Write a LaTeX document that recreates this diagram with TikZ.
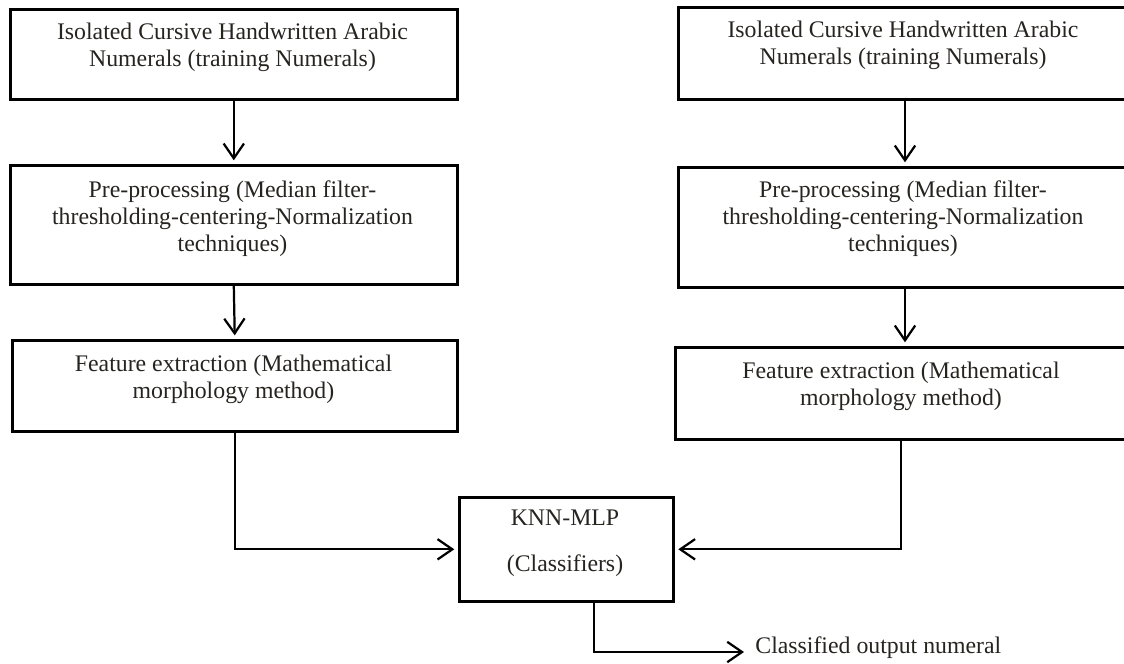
\documentclass[tikz,border=0pt]{standalone}
\usepackage{fontspec}
\setmainfont{Liberation Serif}
\usetikzlibrary{arrows.meta}
\definecolor{txtcol}{rgb}{0.15,0.14,0.12}
\tikzset{
  boxnode/.style={draw=black, line width=1.4pt, rectangle, anchor=north west, inner sep=0pt},
  txtnode/.style={align=center, text=txtcol, font=\fontsize{12.85}{14.6}\selectfont, inner sep=0pt},
  conn/.style={draw=black, line width=1.2pt, -{Straight Barb[length=8pt,width=11pt,line width=1.2pt]}, shorten >=2pt},
  plain/.style={draw=black, line width=1.2pt}
}
\begin{document}
\begin{tikzpicture}[x=0.54pt,y=-0.54pt]
\useasboundingbox (0,0) rectangle (1124,663);
\clip (0,0) rectangle (1124,663);
% left column
\node[boxnode, minimum width=447*0.54pt, minimum height=90*0.54pt] (l1) at (9,8) {};
\node[txtnode] (l1t) at (232.5,47.5) {Isolated Cursive Handwritten Arabic\\Numerals (training Numerals)};
\node[boxnode, minimum width=447*0.54pt, minimum height=119*0.54pt] (l2) at (9,164) {};
\node[txtnode] (l2t) at (232.5,218.5) {Pre-processing (Median filter-\\thresholding-centering-Normalization\\techniques)};
\node[boxnode, minimum width=445*0.54pt, minimum height=91*0.54pt] (l3) at (11,339) {};
\node[txtnode] (l3t) at (233.5,379.5) {Feature extraction (Mathematical\\morphology method)};
% right column
\node[boxnode, minimum width=456*0.54pt, minimum height=92*0.54pt] (r1) at (677,6) {};
\node[txtnode] (r1t) at (903,45.5) {Isolated Cursive Handwritten Arabic\\Numerals (training Numerals)};
\node[boxnode, minimum width=456*0.54pt, minimum height=120*0.54pt] (r2) at (677,166) {};
\node[txtnode] (r2t) at (903,218.5) {Pre-processing (Median filter-\\thresholding-centering-Normalization\\techniques)};
\node[boxnode, minimum width=454*0.54pt, minimum height=92*0.54pt] (r3) at (674,346) {};
\node[txtnode] (r3t) at (901,386) {Feature extraction (Mathematical\\morphology method)};
% classifier
\node[boxnode, minimum width=214*0.54pt, minimum height=104*0.54pt] (knn) at (458,496) {};
\node[txtnode] (knnt) at (565,543.5) {KNN-MLP\\[10.4pt](Classifiers)};
\node[txtnode, anchor=west] (outt) at (755,648) {Classified output numeral};
\coordinate (outend) at (744,652);
% connectors
\draw[conn] (l1.south) -- (l2.north);
\draw[conn] (l2.south) -- (l3.north);
\draw[conn] (905,98) -- (905,166);
\draw[conn] (905,286) -- (905,346);
\draw[conn] (l3.south) |- (knn.west);
\draw[conn] (901,438) |- (knn.east);
\draw[conn, shorten >=0pt] ([xshift=28*0.54pt]knn.south) |- (outend);
\end{tikzpicture}
\end{document}
